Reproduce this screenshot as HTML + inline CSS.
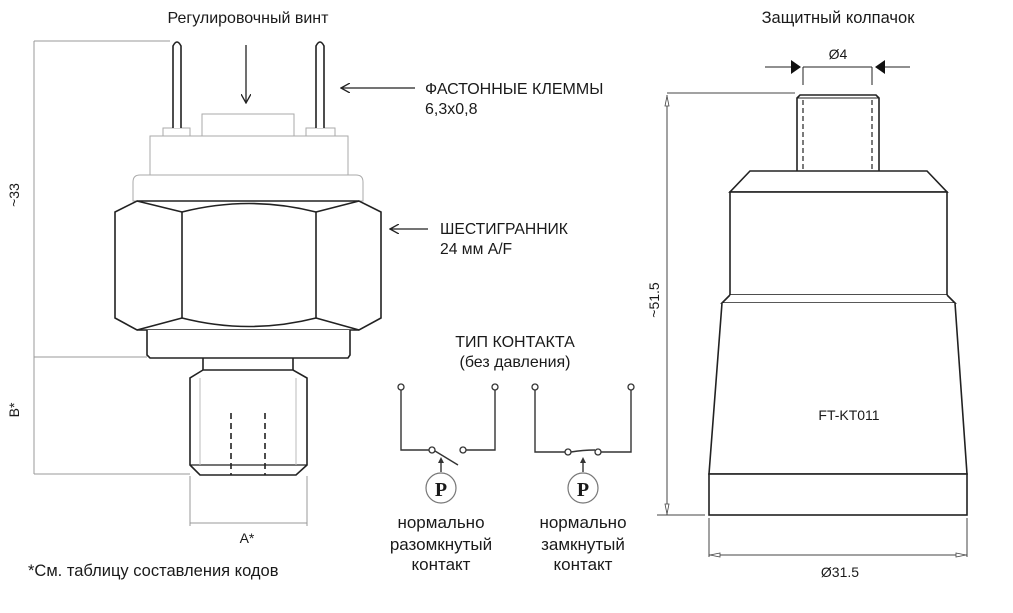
<!DOCTYPE html>
<html><head><meta charset="utf-8"><style>
html,body{margin:0;padding:0;background:#fff;}
svg{display:block;}
text{font-family:"Liberation Sans",sans-serif;fill:#1a1a1a;}
</style></head><body>
<svg width="1013" height="613" viewBox="0 0 1013 613" xmlns="http://www.w3.org/2000/svg">
<defs>
<marker id="ah" markerWidth="10" markerHeight="10" refX="9" refY="5" orient="auto" markerUnits="userSpaceOnUse"><path d="M0,0 L9,5 L0,10" fill="none" stroke="#222" stroke-width="1.3"/></marker>
</defs>

<!-- Left labels -->
<text x="248" y="23" font-size="16" text-anchor="middle">Регулировочный винт</text>
<line x1="246" y1="45" x2="246" y2="103" stroke="#222" stroke-width="1.3" marker-end="url(#ah)"/>
<line x1="415" y1="88" x2="341" y2="88" stroke="#222" stroke-width="1.3" marker-end="url(#ah)"/>
<text x="425" y="94" font-size="16">ФАСТОННЫЕ КЛЕММЫ</text>
<text x="425" y="114" font-size="16">6,3x0,8</text>
<line x1="428" y1="229" x2="390" y2="229" stroke="#222" stroke-width="1.3" marker-end="url(#ah)"/>
<text x="440" y="234" font-size="15.7">ШЕСТИГРАННИК</text>
<text x="440" y="254" font-size="15.7">24 мм A/F</text>

<!-- dims left -->
<g stroke="#999" stroke-width="1" fill="none">
<line x1="34" y1="41" x2="170" y2="41"/>
<line x1="34" y1="41" x2="34" y2="474"/>
<line x1="34" y1="357" x2="147" y2="357"/>
<line x1="34" y1="474" x2="190" y2="474"/>
<line x1="190" y1="476" x2="190" y2="526"/>
<line x1="307" y1="476" x2="307" y2="526"/>
<line x1="190" y1="523" x2="307" y2="523"/>
</g>
<text transform="translate(19,195) rotate(-90)" font-size="14" text-anchor="middle">~33</text>
<text transform="translate(19,410) rotate(-90)" font-size="14" text-anchor="middle">B*</text>
<text x="247" y="543" font-size="14" text-anchor="middle">A*</text>
<text x="28" y="576" font-size="16.5">*См. таблицу составления кодов</text>

<!-- sensor -->
<g stroke="#aaa" stroke-width="1" fill="#fff">
<rect x="202" y="114" width="92" height="22"/>
<rect x="163" y="128" width="27" height="8"/>
<rect x="306" y="128" width="29" height="8"/>
<rect x="150" y="136" width="198" height="39"/>
<path d="M133,201 V182 Q133,175 140,175 H356 Q363,175 363,182 V201 Z"/>
</g>
<g stroke="#222" stroke-width="1.6" fill="#fff">
<path d="M173,128 V46 Q177,38 181,46 V128"/>
<path d="M316,128 V46 Q320,38 324,46 V128"/>
<path d="M137,201 H359 L381,212 V318 L359,330 H137 L115,318 V212 Z"/>
<path d="M182,212 Q249,195 316,212 M182,318 Q249,335 316,318 M137,201 L182,212 M359,201 L316,212 M137,330 L182,318 M359,330 L316,318" fill="none"/>
<line x1="182" y1="212" x2="182" y2="318"/>
<line x1="316" y1="212" x2="316" y2="318"/>
<path d="M147,330 V355 L150,358 H348 L350,355 V330"/>
<path d="M203,358 V370 M293,358 V370"/>
<path d="M203,370 H293 L307,378 V465 L296,475 H200 L190,465 V378 Z"/>
<line x1="190" y1="465" x2="307" y2="465" stroke-width="1.2"/>
<line x1="231" y1="413" x2="231" y2="475" stroke-dasharray="6,4"/>
<line x1="265" y1="413" x2="265" y2="475" stroke-dasharray="6,4"/>
</g>
<line x1="200" y1="378" x2="200" y2="465" stroke="#bbb"/>
<line x1="296" y1="378" x2="296" y2="465" stroke="#bbb"/>

<!-- contact type -->
<text x="515" y="347" font-size="16" text-anchor="middle">ТИП КОНТАКТА</text>
<text x="515" y="367" font-size="16" text-anchor="middle">(без давления)</text>
<g stroke="#333" stroke-width="1.4" fill="none">
<path d="M401,390 V450 H429"/>
<path d="M466,450 H495 V390"/>
<line x1="435" y1="451" x2="458" y2="465"/>
<path d="M535,390 V452 H565"/>
<path d="M601,452 H631 V390"/>
<path d="M571,452 Q583,450 595,450"/>
<line x1="441" y1="472" x2="441" y2="462"/>
<line x1="583" y1="472" x2="583" y2="462"/>
</g>
<path d="M438,463 L441,457 L444,463 Z M580,463 L583,457 L586,463 Z" fill="#333"/>
<g stroke="#333" stroke-width="1.3" fill="#fff">
<circle cx="401" cy="387" r="3"/><circle cx="495" cy="387" r="3"/>
<circle cx="432" cy="450" r="3"/><circle cx="463" cy="450" r="3"/>
<circle cx="535" cy="387" r="3"/><circle cx="631" cy="387" r="3"/>
<circle cx="568" cy="452" r="3"/><circle cx="598" cy="452" r="3"/>
</g>
<g stroke="#777" stroke-width="1.2" fill="#fff">
<circle cx="441" cy="488" r="15"/><circle cx="583" cy="488" r="15"/>
</g>
<text x="441" y="496" font-size="20" font-weight="bold" text-anchor="middle" style="font-family:'Liberation Serif',serif">P</text>
<text x="583" y="496" font-size="20" font-weight="bold" text-anchor="middle" style="font-family:'Liberation Serif',serif">P</text>
<g font-size="17" text-anchor="middle">
<text x="441" y="528">нормально</text><text x="441" y="550">разомкнутый</text><text x="441" y="570">контакт</text>
<text x="583" y="528">нормально</text><text x="583" y="550">замкнутый</text><text x="583" y="570">контакт</text>
</g>

<!-- right cap -->
<text x="838" y="23" font-size="16.5" text-anchor="middle">Защитный колпачок</text>
<text x="838" y="59" font-size="14" text-anchor="middle">Ø4</text>
<g stroke="#222" stroke-width="1" fill="none">
<line x1="765" y1="67" x2="800" y2="67"/>
<line x1="876" y1="67" x2="910" y2="67"/>
<line x1="803" y1="67" x2="872" y2="67"/>
<line x1="803" y1="67" x2="803" y2="85"/>
<line x1="872" y1="67" x2="872" y2="85"/>
</g>
<path d="M791,60 L801,67 L791,74 Z M885,60 L875,67 L885,74 Z" fill="#111"/>
<g stroke="#444" stroke-width="1" fill="none">
<line x1="667" y1="93" x2="795" y2="93"/>
<line x1="667" y1="95" x2="667" y2="515"/>
<line x1="657" y1="515" x2="705" y2="515"/>
<line x1="709" y1="518" x2="709" y2="557"/>
<line x1="967" y1="518" x2="967" y2="557"/>
<line x1="709" y1="555" x2="967" y2="555"/>
</g>
<path d="M665,106 L667,96 L669,106 Z M665,504 L667,514 L669,504 Z" fill="#fff" stroke="#444" stroke-width="0.8"/>
<path d="M720,553 L710,555 L720,557 Z M956,553 L966,555 L956,557 Z" fill="#fff" stroke="#444" stroke-width="0.8"/>
<text transform="translate(659,300) rotate(-90)" font-size="14" text-anchor="middle">~51.5</text>
<text x="840" y="577" font-size="14" text-anchor="middle">Ø31.5</text>
<g stroke="#222" stroke-width="1.6" fill="#fff">
<path d="M797,171 V98 L800,95 H876 L879,98 V171"/>
<line x1="797" y1="98" x2="879" y2="98" stroke-width="1"/>
<path d="M750,171 H927 L947,192 H730 Z"/>
<rect x="730" y="192" width="217" height="103"/>
<path d="M730,295 L722,303 H955 L947,295"/>
<path d="M722,303 L709,474 H967 L955,303"/>
<rect x="709" y="474" width="258" height="41"/>
<line x1="803" y1="100" x2="803" y2="171" stroke-dasharray="5,3" stroke-width="1.2"/>
<line x1="872" y1="100" x2="872" y2="171" stroke-dasharray="5,3" stroke-width="1.2"/>
</g>
<text x="849" y="420" font-size="14" text-anchor="middle">FT-KT011</text>
</svg>
</body></html>
